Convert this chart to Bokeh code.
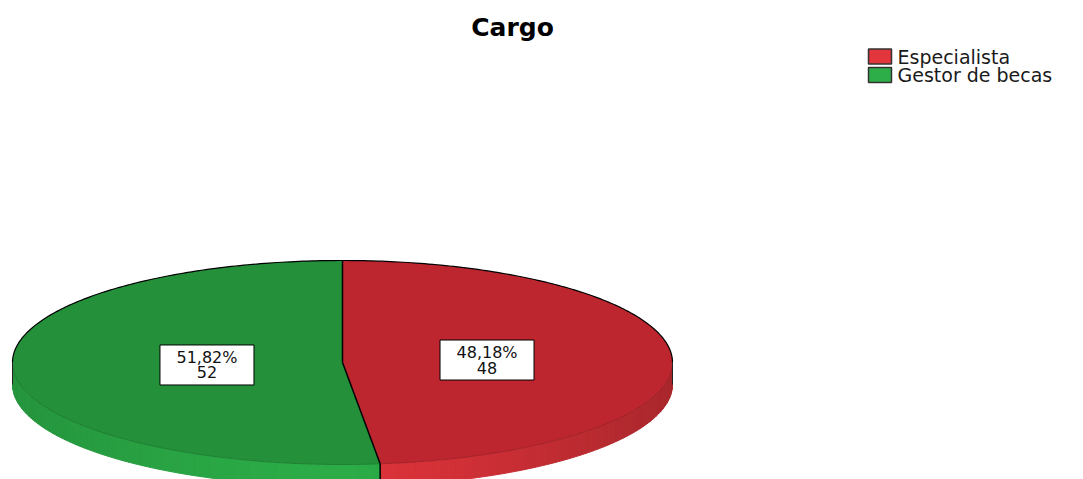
import numpy as np
from bokeh.plotting import figure
from bokeh.models import Range1d
from bokeh.core.properties import value
from bokeh.embed import file_html
from bokeh.resources import INLINE

# ---- data ----
title_text = "Cargo"
categories = ["Especialista", "Gestor de becas"]
percentages = [48.18, 51.82]
counts = [48, 52]
top_colors = ["#BE262F", "#24903A"]
side_colors = ["#DE333A", "#2BAC47"]
legend_colors = ["#E2363C", "#2DAE48"]
edge_colors = ["#8E1C23", "#1B6E2C"]

FONT = value("DejaVu Sans")

W, H = 1083, 479
p = figure(width=W, height=H, x_range=Range1d(0, W), y_range=Range1d(H, 0),
           output_backend="svg", toolbar_location=None, min_border=0)
p.axis.visible = False
p.grid.visible = False
p.outline_line_color = None
p.background_fill_color = "white"
p.border_fill_color = "white"

# pie geometry (screen-like coordinates, y down)
cx, cy, rx, ry, depth = 342, 362, 330, 102, 22


def pt(theta):
    t = np.radians(theta)
    return cx + rx * np.sin(t), cy - ry * np.cos(t)


def shade(hexcol, f):
    h = hexcol.lstrip("#")
    r, g, b = (int(h[i:i + 2], 16) for i in (0, 2, 4))
    r, g, b = (max(0, min(255, int(round(c * f)))) for c in (r, g, b))
    return "#%02x%02x%02x" % (r, g, b)


fr = np.array(percentages) / sum(percentages)
ends = np.cumsum(fr) * 360.0
starts = np.concatenate([[0.0], ends[:-1]])

# ---- side walls (front half only) ----
sx, sy, sc = [], [], []
for i in range(len(categories)):
    a0, a1 = max(starts[i], 90.0), min(ends[i], 270.0)
    if a1 <= a0:
        continue
    n = max(2, int((a1 - a0) / 1.5))
    th = np.linspace(a0, a1, n + 1)
    for j in range(n):
        x0, y0 = pt(th[j])
        x1, y1 = pt(th[j + 1])
        s = np.sin(np.radians((th[j] + th[j + 1]) / 2))
        f = 1 - 0.14 * abs(s) ** 1.5 if s < 0 else 1 - 0.24 * s ** 1.3
        sx.append([x0, x1, x1, x0])
        sy.append([y0, y1, y1 + depth, y0 + depth])
        sc.append(shade(side_colors[i], f))
p.patches(sx, sy, fill_color=sc, line_color=sc, line_width=1)

# ---- top surface slices ----
tx, ty = [], []
for i in range(len(categories)):
    th = np.linspace(starts[i], ends[i], 240)
    xs, ys = pt(th)
    tx.append([cx] + list(xs))
    ty.append([cy] + list(ys))
p.patches(tx, ty, fill_color=top_colors, line_color=None)

# front edge between top and side (subtle)
for i in range(len(categories)):
    a0, a1 = max(starts[i], 90.0), min(ends[i], 270.0)
    if a1 > a0:
        xs, ys = pt(np.linspace(a0, a1, 120))
        p.line(xs, ys, line_color=edge_colors[i], line_width=1, line_alpha=0.6)

# back outline (black)
for rng in [(0.0, 90.0), (270.0, 360.0)]:
    xs, ys = pt(np.linspace(rng[0], rng[1], 120))
    p.line(xs, ys, line_color="black", line_width=1.2)
# outer ends of side
for a in (90.0, 270.0):
    x0, y0 = pt(a)
    p.line([x0, x0], [y0, y0 + depth], line_color="#222222", line_width=1)

# slice boundaries
for a in starts:
    x0, y0 = pt(a)
    p.line([cx, x0], [cy, y0], line_color="black", line_width=1.5)
    if 90.0 < a < 270.0:
        p.line([x0, x0], [y0, y0 + depth], line_color="black", line_width=1.5)

# ---- slice labels ----
k, dx = 0.425, 4.5
mids = (starts + ends) / 2
lx = cx + dx + rx * k * np.sin(np.radians(mids))
ly = cy - ry * k * np.cos(np.radians(mids))
pct_labels = [("%.2f" % v).replace(".", ",") + "%" for v in percentages]
cnt_labels = [str(c) for c in counts]
p.rect(x=lx, y=ly, width=94, height=40, fill_color="white", line_color="black", line_width=1)
p.text(x=lx, y=ly - 7.5, text=pct_labels, text_font=FONT, text_font_size="16px",
       text_align="center", text_baseline="middle", text_color="#111111")
p.text(x=lx, y=ly + 7.5, text=cnt_labels, text_font=FONT, text_font_size="16px",
       text_align="center", text_baseline="middle", text_color="#111111")

# ---- title ----
p.text(x=[512], y=[27], text=[title_text], text_font=FONT, text_font_style="bold",
       text_font_size="25px", text_align="center", text_baseline="middle", text_color="black")

# ---- legend ----
leg_y = [56, 74.5]
p.rect(x=[879.5, 879.5], y=leg_y, width=23, height=15, fill_color=legend_colors,
       line_color="#333333", line_width=1.5)
p.text(x=[897, 897], y=leg_y, text=categories, text_font=FONT, text_font_size="19px",
       text_align="left", text_baseline="middle", text_color="#1a1a1a")

open("out.html", "w").write(file_html(p, INLINE))
